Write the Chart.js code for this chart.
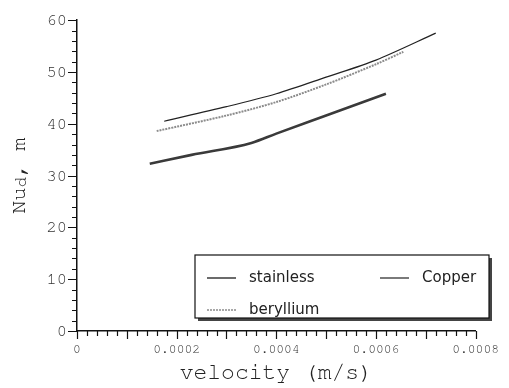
<!DOCTYPE html>
<html>
<head>
<meta charset="utf-8">
<script src="https://cdn.jsdelivr.net/npm/chart.js@4/dist/chart.umd.min.js"></script>
<style>
  html, body { margin: 0; padding: 0; background: #fff; }
  #wrap { width: 509px; height: 388px; }
</style>
</head>
<body>
<div id="wrap"><canvas id="c" width="509" height="388"></canvas></div>
<script>
'use strict';

// values
const stainlessX = [0.000146, 0.00023, 0.00035, 0.0004, 0.0005, 0.00062];
const stainlessY = [32.3, 34.0, 36.3, 38.1, 41.6, 45.8];

const berylliumX = [0.00016, 0.0003, 0.0004, 0.0005, 0.0006, 0.000655];
const berylliumY = [38.6, 41.6, 44.2, 47.6, 51.5, 53.9];

const copperX = [0.000175, 0.0003, 0.0004, 0.0005, 0.0006, 0.00072];
const copperY = [40.5, 43.3, 45.8, 49.0, 52.3, 57.5];

const xLabelTicks = [0, 0.0002, 0.0004, 0.0006, 0.0008];
const yLabelTicks = [0, 10, 20, 30, 40, 50, 60];

const toPts = (xs, ys) => xs.map((x, i) => ({ x: x, y: ys[i] }));

const mono = "FreeMono, 'Courier New', monospace";
const sans = "'DejaVu Sans', 'Noto Sans', sans-serif";

// minor/major tick marks along both axes
const axisTicks = {
  id: 'axisTicks',
  afterDraw(chart) {
    const ctx = chart.ctx;
    const xs = chart.scales.x, ys = chart.scales.y;
    ctx.save();
    ctx.strokeStyle = '#111';
    ctx.lineWidth = 1.2;
    ctx.beginPath();
    for (let i = 0; i <= 30; i++) {
      const py = Math.round(ys.getPixelForValue(i * 2)) + 0.5;
      const len = i % 5 === 0 ? 9 : 5;
      ctx.moveTo(xs.left, py);
      ctx.lineTo(xs.left - len, py);
    }
    for (let i = 0; i <= 40; i++) {
      const px = Math.round(xs.getPixelForValue(i * 0.00002)) + 0.5;
      const len = i % 5 === 0 ? 8 : 5;
      ctx.moveTo(px, ys.bottom);
      ctx.lineTo(px, ys.bottom + len);
    }
    ctx.stroke();
    ctx.restore();
  }
};

// y title with subscript d
const yTitle = {
  id: 'yTitle',
  afterDraw(chart) {
    const ctx = chart.ctx;
    const a = chart.chartArea;
    const big = '22px ' + mono, small = '17px ' + mono;
    ctx.save();
    ctx.font = big;
    const w1 = ctx.measureText('Nu').width;
    const w3 = ctx.measureText(', m').width;
    ctx.font = small;
    const w2 = ctx.measureText('d').width;
    const total = w1 + w2 + w3;
    ctx.translate(18, (a.top + a.bottom) / 2);
    ctx.rotate(-Math.PI / 2);
    ctx.fillStyle = '#222';
    ctx.textBaseline = 'middle';
    ctx.textAlign = 'left';
    let x = -total / 2;
    ctx.font = big;
    ctx.fillText('Nu', x, 0);
    x += w1;
    ctx.font = small;
    ctx.fillText('d', x, 3);
    x += w2;
    ctx.font = big;
    ctx.fillText(', m', x, 0);
    ctx.restore();
  }
};

// boxed legend with drop shadow
const boxLegend = {
  id: 'boxLegend',
  afterDraw(chart) {
    const ctx = chart.ctx;
    const ds = chart.data.datasets;
    const bx = 195, by = 255, bw = 294, bh = 63;
    ctx.save();
    ctx.fillStyle = '#444';
    ctx.fillRect(bx + 3, by + 3, bw, bh);
    ctx.fillStyle = '#fff';
    ctx.fillRect(bx, by, bw, bh);
    ctx.strokeStyle = '#111';
    ctx.lineWidth = 1.2;
    ctx.strokeRect(bx, by, bw, bh);
    const slots = [[207, 278], [207, 310], [380, 278]];
    ctx.font = '15px ' + sans;
    ctx.textBaseline = 'middle';
    ds.forEach((d, i) => {
      const [sx, sy] = slots[i];
      ctx.strokeStyle = d.borderColor;
      ctx.lineWidth = Math.min(d.borderWidth, 1.5);
      ctx.setLineDash(d.borderDash || []);
      ctx.beginPath();
      ctx.moveTo(sx, sy);
      ctx.lineTo(sx + 29, sy);
      ctx.stroke();
      ctx.setLineDash([]);
      ctx.fillStyle = '#222';
      ctx.fillText(d.label, sx + 42, sy);
    });
    ctx.restore();
  }
};

new Chart(document.getElementById('c'), {
  type: 'line',
  data: {
    datasets: [
      { label: 'stainless', data: toPts(stainlessX, stainlessY), borderColor: '#3a3a3a', borderWidth: 2.6, cubicInterpolationMode: 'monotone' },
      { label: 'beryllium', data: toPts(berylliumX, berylliumY), borderColor: '#8c8c8c', borderWidth: 2, borderDash: [2, 1], tension: 0.3 },
      { label: 'Copper', data: toPts(copperX, copperY), borderColor: '#222', borderWidth: 1.2, tension: 0.3 },
    ],
  },
  options: {
    animation: false,
    responsive: false,
    devicePixelRatio: 1,
    layout: { padding: { top: 16, right: 22, left: 0, bottom: 0 } },
    elements: { point: { radius: 0 } },
    plugins: { legend: { display: false }, tooltip: { enabled: false } },
    scales: {
      x: {
        type: 'linear',
        min: 0,
        max: 0.0008,
        afterBuildTicks: (s) => { s.ticks = xLabelTicks.map((v) => ({ value: v })); },
        afterFit: (s) => { s.height = 57; },
        grid: { display: false, drawTicks: false },
        border: { display: true, color: '#111', width: 1.5 },
        ticks: {
          autoSkip: false,
          maxRotation: 0,
          padding: 10,
          color: '#333',
          font: { family: mono, size: 13 },
          callback: (v) => (v === 0 ? '0' : v.toFixed(4)),
        },
        title: {
          display: true,
          text: 'velocity (m/s)',
          color: '#222',
          font: { family: mono, size: 23 },
          padding: { top: 0, bottom: 2 },
        },
      },
      y: {
        type: 'linear',
        min: 0,
        max: 60,
        afterBuildTicks: (s) => { s.ticks = yLabelTicks.map((v) => ({ value: v })); },
        afterFit: (s) => { s.width = 77; },
        grid: { display: false, drawTicks: false },
        border: { display: true, color: '#111', width: 1.5 },
        ticks: {
          autoSkip: false,
          padding: 10,
          color: '#333',
          font: { family: mono, size: 17 },
        },
      },
    },
  },
  plugins: [axisTicks, yTitle, boxLegend],
});
</script>
</body>
</html>
